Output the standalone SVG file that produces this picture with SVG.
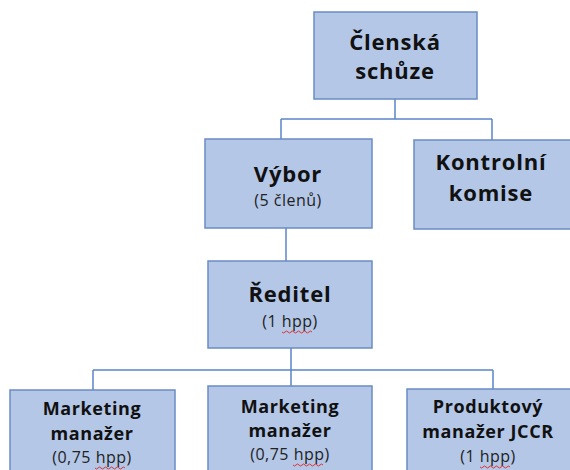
<svg xmlns="http://www.w3.org/2000/svg" width="570" height="470" viewBox="0 0 570 470">
<style>
.box{fill:#B4C7E7;stroke:#6A8CC4;stroke-width:1.5}
.ln{fill:none;stroke:#5B84C8;stroke-width:1.5}
.t{font-family:"Open Sans","Noto Sans",sans-serif;font-weight:bold;fill:#111;text-anchor:middle}
.big{font-size:22px;letter-spacing:0.8px}
.mid{font-size:18px;letter-spacing:0.6px}
.s{font-family:"Open Sans","Noto Sans",sans-serif;font-size:16px;letter-spacing:0.5px;fill:#222;text-anchor:middle}
.sq{fill:none;stroke:#E03030;stroke-width:1}
</style>
<rect width="570" height="470" fill="#fff"/>
<g id="connectors">
<path class="ln" d="M395 99V119M281 119H492M281 119V140M492 119V140"/>
<path class="ln" d="M286 228V261"/>
<path class="ln" d="M291 348V370M93 370H493M93 370V390M291 370V386M493 370V389"/>
</g>
<g id="clenska">
<rect class="box" x="314" y="12" width="163" height="87"/>
<text class="t big" x="395" y="50">Členská</text>
<text class="t big" x="395" y="79">schůze</text>
</g>
<g id="vybor">
<rect class="box" x="205" y="139" width="167" height="89"/>
<text class="t big" x="288" y="182">Výbor</text>
<text class="s" x="288" y="206">(5 členů)</text>
</g>
<g id="kontrolni">
<rect class="box" x="414" y="140" width="160" height="89"/>
<text class="t big" x="491" y="170">Kontrolní</text>
<text class="t big" x="491" y="201">komise</text>
</g>
<g id="reditel">
<rect class="box" x="208" y="261" width="164" height="87"/>
<text class="t big" x="290" y="302">Ředitel</text>
<text class="s" x="290" y="327">(1 hpp)</text>
<path class="sq" d="M282 332q1.5 2 3 0t3 0t3 0t3 0t3 0t3 0t3 0t3 0t3 0t3 0"/>
</g>
<g id="mm1">
<rect class="box" x="10" y="390" width="165" height="90"/>
<text class="t mid" x="92" y="415">Marketing</text>
<text class="t mid" x="92" y="440">manažer</text>
<text class="s" x="92" y="463">(0,75 hpp)</text>
<path class="sq" d="M95 468q1.5 2 3 0t3 0t3 0t3 0t3 0t3 0t3 0t3 0t3 0t3 0"/>
</g>
<g id="mm2">
<rect class="box" x="208" y="386" width="164" height="94"/>
<text class="t mid" x="290" y="413">Marketing</text>
<text class="t mid" x="290" y="437">manažer</text>
<text class="s" x="290" y="460">(0,75 hpp)</text>
<path class="sq" d="M293 465q1.5 2 3 0t3 0t3 0t3 0t3 0t3 0t3 0t3 0t3 0t3 0"/>
</g>
<g id="pm">
<rect class="box" x="407" y="389" width="167" height="91"/>
<text class="t mid" x="488" y="413">Produktový</text>
<text class="t mid" x="488" y="438">manažer JCCR</text>
<text class="s" x="488" y="462">(1 hpp)</text>
<path class="sq" d="M480 467q1.5 2 3 0t3 0t3 0t3 0t3 0t3 0t3 0t3 0t3 0t3 0"/>
</g>
</svg>
